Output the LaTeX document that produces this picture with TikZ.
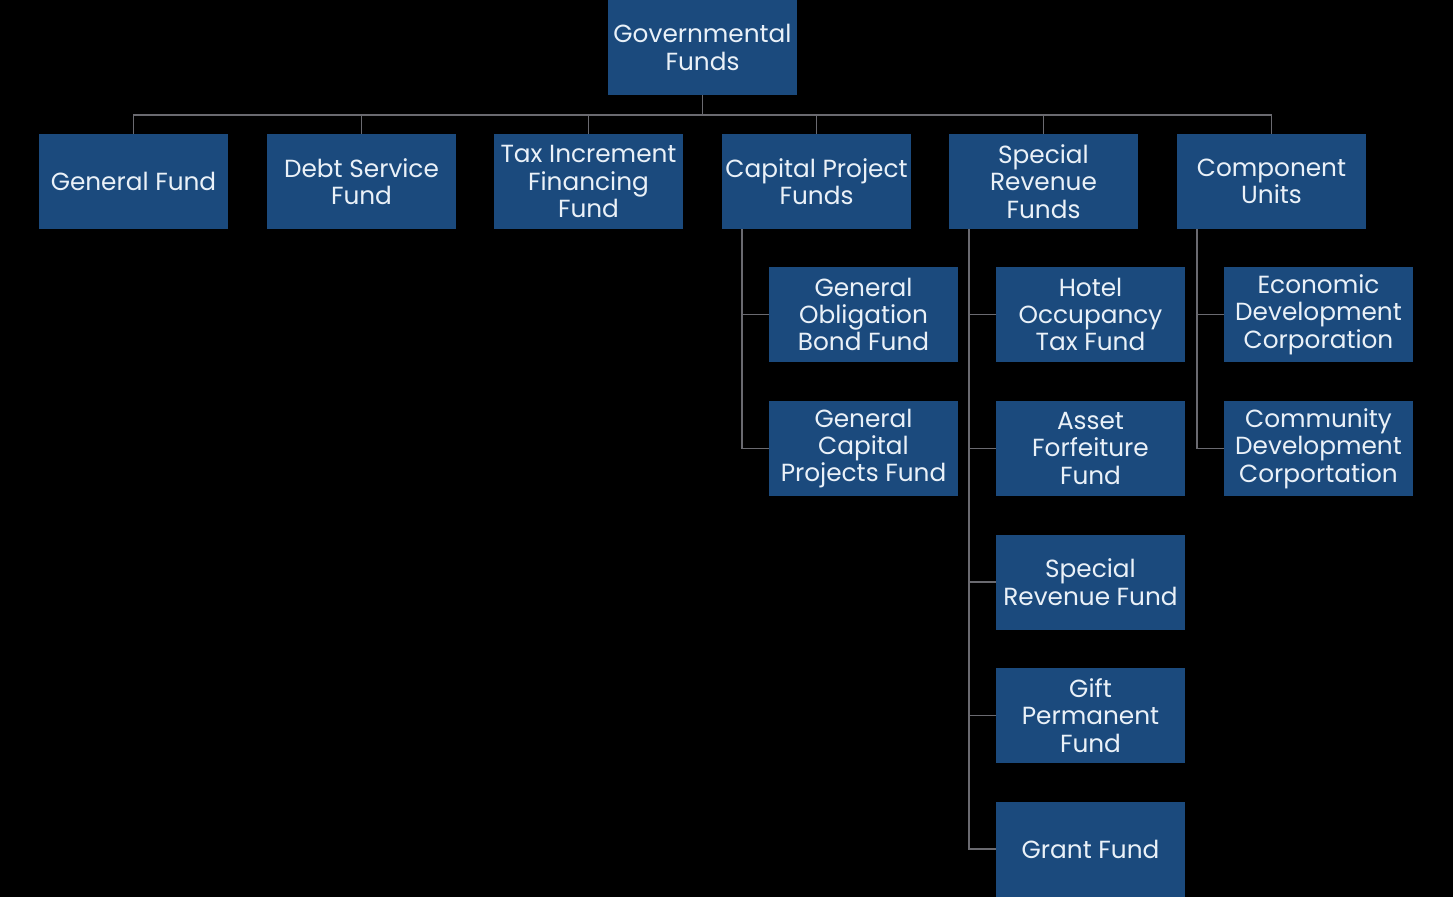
\documentclass[tikz,border=0pt]{standalone}
\usepackage{fontspec}
\setmainfont{Poppins}
\usepackage{tikz}
\usetikzlibrary{positioning,calc}
\definecolor{fundblue}{HTML}{1B4A7D}
\definecolor{fundline}{HTML}{6A6A70}
\definecolor{fundtext}{HTML}{EAF1F8}

\begin{document}
\begin{tikzpicture}[
    x=0.02cm, y=-0.02cm,
    fundbox/.style={fill=fundblue, minimum width=3.78cm, minimum height=1.9cm, inner sep=1pt,
        align=center, text=fundtext, font=\fontsize{14.1}{15.6}\selectfont},
    link/.style={draw=fundline, line width=1.1pt},
]
\fill[black] (0,0) rectangle (1453,897);
\useasboundingbox (0,0) rectangle (1453,897);

% top
\node[fundbox] (gov) at (702.5,47.5) {Governmental\\Funds};

% first row
\node[fundbox] (gf)  at (133.5,181.5) {General Fund};
\node[fundbox] (ds)  at (361.5,181.5) {Debt Service\\Fund};
\node[fundbox] (tif) at (588.5,181.5) {Tax Increment\\Financing\\Fund};
\node[fundbox] (cp)  at (816.5,181.5) {Capital Project\\Funds};
\node[fundbox] (sr)  at (1043.5,181.5) {Special\\Revenue\\Funds};
\node[fundbox] (cu)  at (1271.5,181.5) {Component\\Units};

% capital projects
\node[fundbox] (gob) at (863.5,314.5) {General\\Obligation\\Bond Fund};
\node[fundbox] (gcp) at (863.5,448.5) {General\\Capital\\Projects Fund};

% special revenue
\node[fundbox] (hot) at (1090.5,314.5) {Hotel\\Occupancy\\Tax Fund};
\node[fundbox] (aff) at (1090.5,448.5) {Asset\\Forfeiture\\Fund};
\node[fundbox] (srf) at (1090.5,582) {Special\\Revenue Fund};
\node[fundbox] (gpf) at (1090.5,715.5) {Gift\\Permanent\\Fund};
\node[fundbox] (grf) at (1090.5,849) {Grant Fund};

% component units
\node[fundbox] (edc) at (1318.5,314.5) {Economic\\Development\\Corporation};
\node[fundbox] (cdc) at (1318.5,448.5) {Community\\Development\\Corportation};

\coordinate (bus) at (702.5,115);
\draw[link] (gov.south) -- (bus);
\foreach \n in {gf,ds,tif,cp,sr,cu}
    \draw[link] (bus) -| (\n.north);

\foreach \p/\c in {cp/gob,cp/gcp,sr/hot,sr/aff,sr/srf,sr/gpf,sr/grf,cu/edc,cu/cdc}
    \draw[link] ($(\p.south west)+(20,0)$) |- (\c.west);
\end{tikzpicture}
\end{document}
